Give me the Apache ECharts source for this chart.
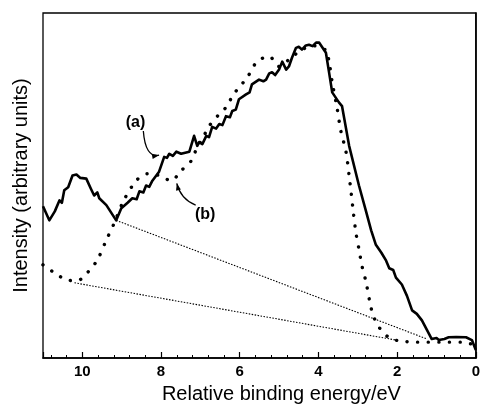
<!DOCTYPE html>
<html>
<head>
<meta charset="utf-8">
<script src="https://cdn.jsdelivr.net/npm/echarts@6/dist/echarts.min.js"></script>
<style>
  html, body { margin: 0; padding: 0; background: #fff; }
  #chart { width: 483px; height: 409px; }
</style>
</head>
<body>
<div id="chart"></div>
<script>
// spectrum (a): solid line  [binding energy eV, intensity]
var curveA = [
  [11.0, 44.0], [10.84, 39.9], [10.7, 42.5], [10.58, 45.7], [10.52, 45.0], [10.46, 48.6], [10.36, 49.5],
  [10.25, 52.9], [10.15, 53.2], [10.05, 52.2], [9.9, 52.0], [9.78, 49.0], [9.70, 47.1], [9.62, 48.0],
  [9.57, 46.3], [9.39, 44.3], [9.14, 39.9], [9.01, 43.4], [8.85, 45.0], [8.73, 46.3], [8.62, 46.0],
  [8.55, 48.3], [8.45, 48.0], [8.38, 50.0], [8.3, 49.6], [8.22, 51.4], [8.05, 54.0], [7.92, 58.3],
  [7.85, 58.0], [7.79, 59.2], [7.7, 58.6], [7.61, 59.8], [7.49, 59.2], [7.28, 59.8], [7.16, 64.4],
  [7.08, 61.5], [7.03, 62.6], [6.95, 62.0], [6.85, 64.4], [6.78, 64.0], [6.70, 67.0], [6.6, 66.5],
  [6.52, 67.8], [6.44, 67.5], [6.35, 70.1], [6.25, 69.8], [6.19, 71.6], [6.1, 72.0], [6.02, 75.0],
  [5.84, 76.4], [5.75, 77.0], [5.69, 79.3], [5.51, 80.7], [5.4, 80.2], [5.33, 80.7], [5.25, 82.5],
  [5.18, 82.8], [5.1, 82.0], [5.0, 83.6], [4.92, 85.9], [4.82, 83.6], [4.75, 84.5], [4.67, 87.1],
  [4.57, 89.9], [4.5, 90.2], [4.42, 89.4], [4.32, 90.6], [4.24, 90.8], [4.15, 90.4], [4.06, 91.4],
  [3.98, 91.4], [3.81, 88.5], [3.73, 82.8], [3.65, 77.0], [3.48, 74.1], [3.40, 73.0], [3.22, 61.5],
  [2.97, 50.0], [2.79, 42.5], [2.66, 37.0], [2.54, 32.8], [2.4, 30.5], [2.28, 28.2], [2.2, 26.0],
  [2.1, 25.5], [2.03, 23.3], [1.88, 21.3], [1.75, 18.0], [1.62, 13.8], [1.5, 12.8], [1.37, 10.9],
  [1.12, 5.5], [1.0, 5.8], [0.94, 5.2], [0.8, 5.5], [0.69, 6.0], [0.5, 6.1], [0.25, 6.0],
  [0.10, 5.2], [0.0, 2.3]
];

// spectrum (b): dotted line
var curveB = [
  [11.0, 27.0], [10.71, 24.7], [10.41, 22.7], [10.13, 22.4], [9.85, 25.0], [9.62, 28.4],
  [9.39, 34.2], [9.19, 39.1], [8.96, 45.4], [8.63, 51.4], [8.35, 53.4], [8.05, 52.9], [7.74, 51.4],
  [7.49, 54.3], [7.23, 57.2], [7.08, 61.2], [6.95, 63.5], [6.78, 67.2], [6.52, 70.7], [6.32, 73.0],
  [6.19, 75.9], [6.02, 78.4], [5.81, 81.3], [5.56, 85.9], [5.25, 87.4], [5.0, 84.5], [4.7, 87.0],
  [4.4, 89.5], [4.1, 90.5], [3.9, 89.5], [3.81, 89.4], [3.73, 85.9], [3.65, 79.9], [3.53, 72.7],
  [3.43, 65.8], [3.30, 59.8], [3.22, 52.9], [3.12, 43.0], [3.05, 36.5], [2.97, 31.5], [2.89, 26.5],
  [2.79, 22.0], [2.69, 16.0], [2.61, 12.4], [2.46, 8.9], [2.18, 5.7], [1.88, 4.9], [1.52, 4.6],
  [0.69, 4.6], [0.36, 4.6], [0.10, 4.0]
];

// linear backgrounds
var baseA = [[9.14, 39.9], [1.24, 5.5]];
var baseB = [[10.2, 21.8], [2.03, 5.2]];

var xTicks = [0, 2, 4, 6, 8, 10];

// annotation labels and arrows, in data coordinates
var labels = [
  { text: '(a)', at: [8.65, 68.3], from: [8.45, 65.8], ctrl: [8.4, 58.0], to: [8.05, 58.8] },
  { text: '(b)', at: [6.88, 41.6], from: [7.12, 44.3], ctrl: [7.5, 46.0], to: [7.6, 50.6] }
];

var chart = echarts.init(document.getElementById('chart'));
var font = '"Liberation Sans", Arial, Helvetica, sans-serif';

chart.setOption({
  animation: false,
  grid: {
    left: 43, right: 6, top: 13, bottom: 48,
    show: true, borderColor: '#000', borderWidth: 1.3
  },
  xAxis: {
    type: 'value',
    min: 0,
    max: 11,
    interval: 2,
    inverse: true,
    name: 'Relative binding energy/eV',
    nameLocation: 'middle',
    nameGap: 26,
    nameTextStyle: { fontFamily: font, fontSize: 20, color: '#000', padding: [0, 0, 0, 44] },
    axisLine: { show: true, lineStyle: { color: '#000', width: 1.6 } },
    axisTick: { show: true, inside: true, length: 6, lineStyle: { color: '#000', width: 1.2 } },
    minorTick: { show: true, splitNumber: 5, length: 3, lineStyle: { color: '#000', width: 1 } },
    splitLine: { show: false },
    axisLabel: {
      margin: 6, fontFamily: font, fontSize: 15, fontWeight: 'bold', color: '#000',
      formatter: function (v) { return xTicks.indexOf(v) >= 0 ? String(v) : ''; }
    }
  },
  yAxis: {
    type: 'value',
    min: 0,
    max: 100,
    name: 'Intensity (arbitrary units)',
    nameLocation: 'middle',
    nameRotate: 90,
    nameGap: 12,
    nameTextStyle: { fontFamily: font, fontSize: 20, color: '#000' },
    axisLine: { show: true, lineStyle: { color: '#000', width: 1.6 } },
    axisTick: { show: false },
    axisLabel: { show: false },
    splitLine: { show: false }
  },
  series: [
    {
      type: 'line', data: baseA, symbol: 'none', silent: true,
      lineStyle: { color: '#000', width: 1.1, type: [1.5, 1.5] }
    },
    {
      type: 'line', data: baseB, symbol: 'none', silent: true,
      lineStyle: { color: '#000', width: 1.1, type: [1.5, 1.5] }
    },
    {
      type: 'line', data: curveB, symbol: 'none', smooth: 0.3, silent: true,
      lineStyle: { color: '#000', width: 3.4, type: [0.1, 10.5], cap: 'round' }
    },
    {
      type: 'line', data: curveA, symbol: 'none', silent: true,
      lineStyle: { color: '#000', width: 2.6, join: 'round' }
    }
  ]
});

// annotations
var g = [];
labels.forEach(function (l) {
  var p = chart.convertToPixel({ gridIndex: 0 }, l.at);
  var a = chart.convertToPixel({ gridIndex: 0 }, l.from);
  var c = chart.convertToPixel({ gridIndex: 0 }, l.ctrl);
  var b = chart.convertToPixel({ gridIndex: 0 }, l.to);
  g.push({
    type: 'text', x: p[0], y: p[1],
    style: { text: l.text, font: 'bold 16px ' + font, fill: '#000', align: 'center', verticalAlign: 'middle' }
  });
  g.push({
    type: 'bezierCurve',
    shape: { x1: a[0], y1: a[1], cpx1: c[0], cpy1: c[1], x2: b[0], y2: b[1] },
    style: { stroke: '#000', lineWidth: 1.3, fill: null }
  });
  // arrow head along the tangent at the end
  var dx = b[0] - c[0], dy = b[1] - c[1];
  var len = Math.sqrt(dx * dx + dy * dy);
  dx /= len; dy /= len;
  var hl = 7, hw = 2.5;
  g.push({
    type: 'polygon',
    shape: { points: [
      [b[0], b[1]],
      [b[0] - dx * hl - dy * hw, b[1] - dy * hl + dx * hw],
      [b[0] - dx * hl + dy * hw, b[1] - dy * hl - dx * hw]
    ] },
    style: { fill: '#000' }
  });
});
chart.setOption({ graphic: g });
</script>
</body>
</html>
